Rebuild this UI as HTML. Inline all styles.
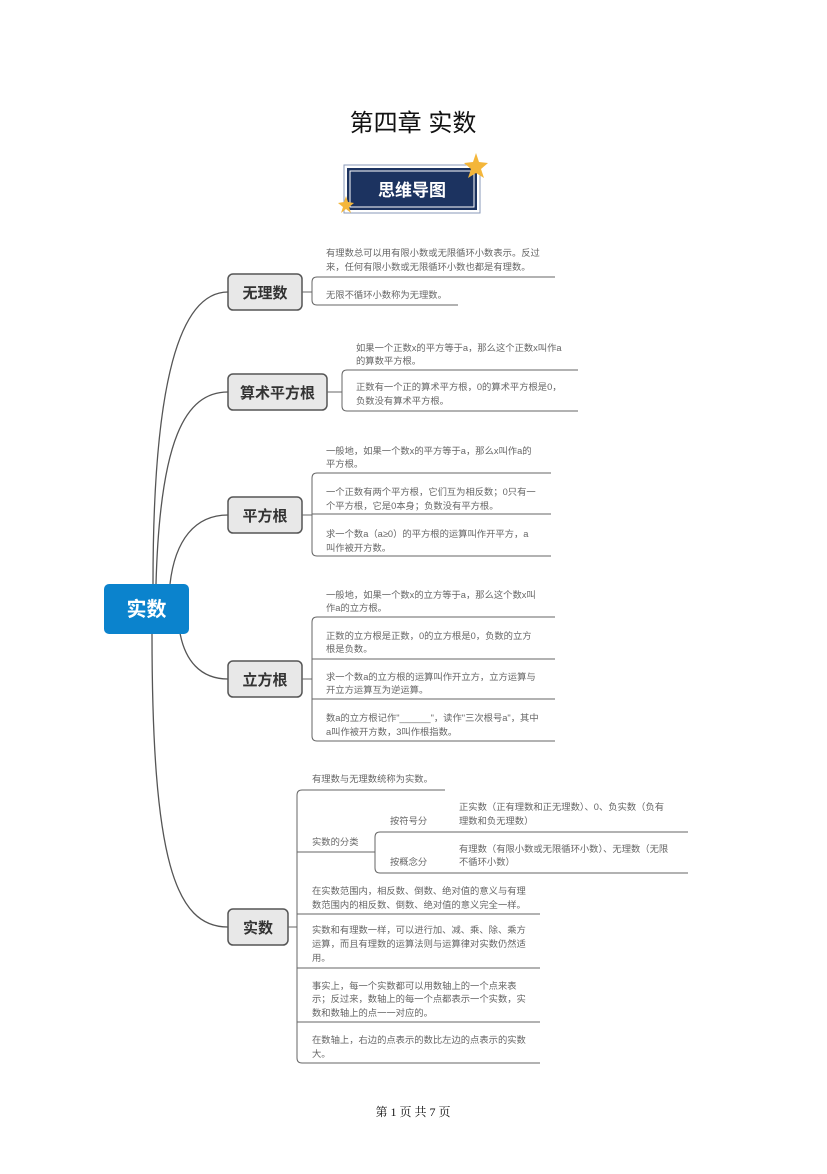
<!DOCTYPE html>
<html><head><meta charset="utf-8"><style>
body{margin:0;background:#fff}
svg text{font-family:"Liberation Sans","Noto Sans CJK SC",sans-serif}
.t{font-size:9.3px;fill:#666}
.n{font-size:15px;font-weight:bold;fill:#333}
</style></head><body>
<svg width="827" height="1169" viewBox="0 0 827 1169" xmlns="http://www.w3.org/2000/svg">
<text x="413" y="131" text-anchor="middle" style="font-size:24px;fill:#111">第四章 实数</text>
<rect x="344" y="165" width="136" height="48" fill="#fff" stroke="#8a9ab8" stroke-width="1"/>
<rect x="347" y="168" width="130" height="42" fill="#1c3360"/>
<rect x="350" y="171" width="124" height="36" fill="none" stroke="#fff" stroke-width="1"/>
<text x="412" y="196" text-anchor="middle" style="font-size:17px;font-weight:bold;fill:#fff">思维导图</text>
<polygon points="476,153 479,162 488,163 481,169 484,178 476,173 468,178 471,169 464,163 473,162" fill="#f4b63a"/>
<polygon points="346,196 348,202 354,203 349,207 351,213 346,209 341,213 343,207 338,203 344,202" fill="#f4b63a"/>
<g fill="none" stroke="#555" stroke-width="1.3">
<path d="M153,584 C153,380 180,292 228,292"/>
<path d="M156,584 C160,440 185,392 228,392"/>
<path d="M170,584 C175,540 195,515 228,515"/>
<path d="M180,633 C185,660 200,679 228,679"/>
<path d="M152,633 C152,860 175,927 228,927"/>
</g>
<rect x="104" y="584" width="85" height="50" rx="5" fill="#0b83cd"/>
<text x="146.5" y="616" text-anchor="middle" style="font-size:20px;font-weight:bold;fill:#fff">实数</text>
<g fill="#e8e8e8" stroke="#555" stroke-width="1.5">
<rect x="228" y="274" width="74" height="36" rx="5"/>
<rect x="228" y="374" width="99" height="36" rx="5"/>
<rect x="228" y="497" width="74" height="36" rx="5"/>
<rect x="228" y="661" width="74" height="36" rx="5"/>
<rect x="228" y="909" width="60" height="36" rx="5"/>
</g>
<text class="n" x="265" y="298" text-anchor="middle">无理数</text>
<text class="n" x="277.5" y="398" text-anchor="middle">算术平方根</text>
<text class="n" x="265" y="521" text-anchor="middle">平方根</text>
<text class="n" x="265" y="685" text-anchor="middle">立方根</text>
<text class="n" x="258" y="933" text-anchor="middle">实数</text>
<g fill="none" stroke="#666" stroke-width="1">
<path d="M302,292 H312"/><path d="M555,277 H317 Q312,277 312,282 V300 Q312,305 317,305 H458"/>
<path d="M327,392 H342"/><path d="M578,370 H347 Q342,370 342,375 V406 Q342,411 347,411 H578"/>
<path d="M302,515 H312"/><path d="M551,473 H317 Q312,473 312,478 V551 Q312,556 317,556 H551"/><path d="M312,514 H551"/>
<path d="M302,679 H312"/><path d="M555,617 H317 Q312,617 312,622 V736 Q312,741 317,741 H555"/><path d="M312,659 H555"/><path d="M312,699 H555"/>
<path d="M288,927 H297"/><path d="M445,790 H302 Q297,790 297,795 V1058 Q297,1063 302,1063 H540"/>
<path d="M297,852 H375"/><path d="M688,832 H380 Q375,832 375,837 V868 Q375,873 380,873 H688"/>
<path d="M297,914 H540"/><path d="M297,968 H540"/><path d="M297,1022 H540"/>
</g>
<g class="t">
<text x="326" y="256">有理数总可以用有限小数或无限循环小数表示。反过</text>
<text x="326" y="270">来，任何有限小数或无限循环小数也都是有理数。</text>
<text x="326" y="298">无限不循环小数称为无理数。</text>
<text x="356" y="351">如果一个正数x的平方等于a，那么这个正数x叫作a</text>
<text x="356" y="364">的算数平方根。</text>
<text x="356" y="390">正数有一个正的算术平方根，0的算术平方根是0，</text>
<text x="356" y="404">负数没有算术平方根。</text>
<text x="326" y="454">一般地，如果一个数x的平方等于a，那么x叫作a的</text>
<text x="326" y="467">平方根。</text>
<text x="326" y="495">一个正数有两个平方根，它们互为相反数；0只有一</text>
<text x="326" y="509">个平方根，它是0本身；负数没有平方根。</text>
<text x="326" y="537">求一个数a（a≥0）的平方根的运算叫作开平方，a</text>
<text x="326" y="551">叫作被开方数。</text>
<text x="326" y="598">一般地，如果一个数x的立方等于a，那么这个数x叫</text>
<text x="326" y="611">作a的立方根。</text>
<text x="326" y="639">正数的立方根是正数，0的立方根是0，负数的立方</text>
<text x="326" y="652">根是负数。</text>
<text x="326" y="680">求一个数a的立方根的运算叫作开立方，立方运算与</text>
<text x="326" y="693">开立方运算互为逆运算。</text>
<text x="326" y="721">数a的立方根记作"______"，读作"三次根号a"，其中</text>
<text x="326" y="735">a叫作被开方数，3叫作根指数。</text>
<text x="312" y="782">有理数与无理数统称为实数。</text>
<text x="312" y="845">实数的分类</text>
<text x="390" y="824">按符号分</text>
<text x="390" y="865">按概念分</text>
<text x="459" y="810">正实数（正有理数和正无理数）、0、负实数（负有</text>
<text x="459" y="824">理数和负无理数）</text>
<text x="459" y="852">有理数（有限小数或无限循环小数）、无理数（无限</text>
<text x="459" y="865">不循环小数）</text>
<text x="312" y="894">在实数范围内，相反数、倒数、绝对值的意义与有理</text>
<text x="312" y="908">数范围内的相反数、倒数、绝对值的意义完全一样。</text>
<text x="312" y="933">实数和有理数一样，可以进行加、减、乘、除、乘方</text>
<text x="312" y="947">运算，而且有理数的运算法则与运算律对实数仍然适</text>
<text x="312" y="961">用。</text>
<text x="312" y="989">事实上，每一个实数都可以用数轴上的一个点来表</text>
<text x="312" y="1002">示；反过来，数轴上的每一个点都表示一个实数，实</text>
<text x="312" y="1016">数和数轴上的点一一对应的。</text>
<text x="312" y="1043">在数轴上，右边的点表示的数比左边的点表示的实数</text>
<text x="312" y="1057">大。</text>
</g>
<text x="413" y="1116" text-anchor="middle" style="font-size:12px;fill:#111;font-family:'Liberation Serif','Noto Serif CJK SC',serif">第 1 页 共 7 页</text>
</svg>
</body></html>
